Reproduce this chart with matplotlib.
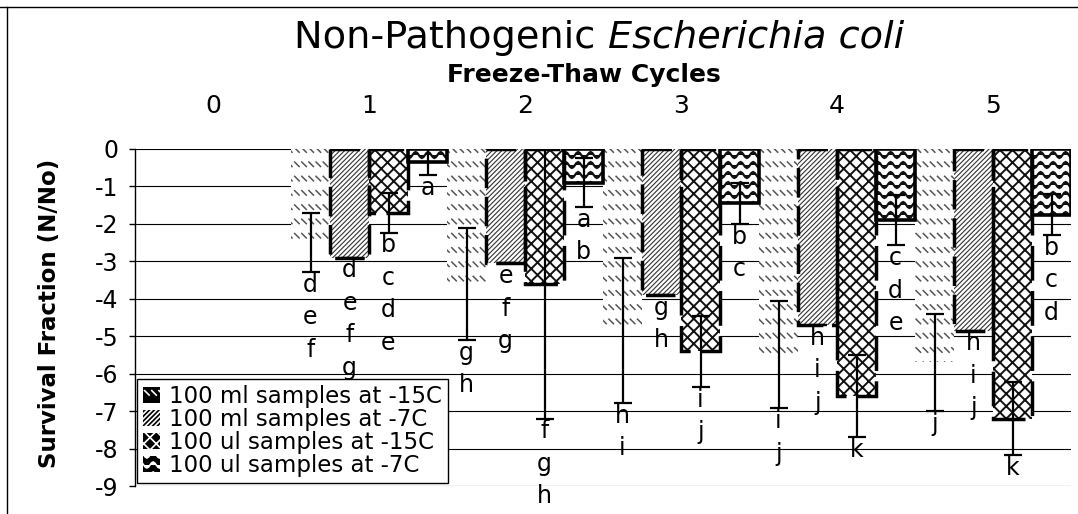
import warnings
warnings.filterwarnings("ignore")
import numpy as np
import matplotlib
matplotlib.use("Agg")
import matplotlib.pyplot as plt
import matplotlib.hatch as mhatch
import matplotlib.patches as mpatches
from matplotlib.path import Path
from matplotlib.lines import Line2D

# ---------------- data ----------------
cycles = [0, 1, 2, 3, 4, 5]
series_labels = ["100 ml samples at -15C", "100 ml samples at -7C",
                 "100 ul samples at -15C", "100 ul samples at -7C"]

ml_m15 = [0, -2.5, -3.6, -4.85, -5.5, -5.7]
ml_m15_err = [0, 0.78, 1.5, 1.93, 1.43, 1.3]
ml_m15_grp = ["", "def", "gh", "hi", "ij", "j"]

ml_m7 = [0, -2.9, -3.05, -3.9, -4.7, -4.85]
ml_m7_err = [0, 0, 0, 0, 0, 0]
ml_m7_grp = ["", "defg", "efg", "gh", "hij", "hij"]

ul_m15 = [0, -1.7, -3.6, -5.4, -6.6, -7.2]
ul_m15_err = [0, 0.53, 3.6, 0.95, 1.1, 0.98]
ul_m15_grp = ["", "bcde", "fgh", "ij", "k", "k"]

ul_m7 = [0, -0.35, -0.9, -1.45, -1.9, -1.75]
ul_m7_err = [0, 0.35, 0.65, 0.55, 0.67, 0.55]
ul_m7_grp = ["", "a", "ab", "bc", "cde", "bcd"]

yticks = [0, -1, -2, -3, -4, -5, -6, -7, -8, -9]


# ---------------- custom hatches ----------------
class WavyHatch(mhatch.HatchPatternBase):
    rows, periods, pts = 10, 8, 8

    def __init__(self, hatch, density):
        self.num_rows = hatch.count('~') * self.rows
        self.npts = self.periods * self.pts + 1
        self.num_vertices = self.num_rows * self.npts

    def set_vertices_and_codes(self, vertices, codes):
        xs = np.linspace(0, 1, self.npts)
        amp = 0.3 / self.num_rows
        k = 0
        for i in range(self.num_rows):
            y0 = (i + 0.5) / self.num_rows
            vertices[k:k + self.npts, 0] = xs
            vertices[k:k + self.npts, 1] = y0 + amp * np.sin(2 * np.pi * self.periods * xs)
            codes[k] = Path.MOVETO
            codes[k + 1:k + self.npts] = Path.LINETO
            k += self.npts


class DashHatch(mhatch.HatchPatternBase):
    rows, per_row, size = 7, 14, 0.045

    def __init__(self, hatch, density):
        self.num_rows = hatch.count(':') * self.rows
        self.num_vertices = self.num_rows * self.per_row * 2

    def set_vertices_and_codes(self, vertices, codes):
        s = self.size
        k = 0
        for i in range(self.num_rows):
            y0 = (i + 0.5) / self.num_rows
            for j in range(self.per_row):
                x0 = (j + 0.25) / self.per_row
                vertices[k] = (x0, y0 + s / 2)
                vertices[k + 1] = (x0 + s, y0 - s / 2)
                codes[k] = Path.MOVETO
                codes[k + 1] = Path.LINETO
                k += 2


class DiamondHatch(mhatch.HatchPatternBase):
    lines = 16

    def __init__(self, hatch, density):
        self.num_lines = hatch.count('#') * self.lines
        self.num_vertices = (self.num_lines + 1) * 4 if self.num_lines else 0

    def set_vertices_and_codes(self, vertices, codes):
        n = self.num_lines
        steps = np.linspace(-0.5, 0.5, n + 1)
        m = (n + 1) * 2
        v1 = vertices[:m]
        v1[0::2, 0] = 0.0 + steps
        v1[0::2, 1] = 0.0 - steps
        v1[1::2, 0] = 1.0 + steps
        v1[1::2, 1] = 1.0 - steps
        v2 = vertices[m:]
        v2[0::2, 0] = 0.0 + steps
        v2[0::2, 1] = 1.0 + steps
        v2[1::2, 0] = 1.0 + steps
        v2[1::2, 1] = 0.0 + steps
        codes[0::2] = Path.MOVETO
        codes[1::2] = Path.LINETO


mhatch._hatch_types.extend([WavyHatch, DashHatch, DiamondHatch])

# ---------------- figure ----------------
plt.rcParams['axes.unicode_minus'] = False
plt.rcParams['font.family'] = ['DejaVu Sans']
plt.rcParams['hatch.linewidth'] = 1.2

W, H = 1078, 514
fig = plt.figure(figsize=(W / 100, H / 100), dpi=100)
ax_l, ax_r, ax_t, ax_b = 135, 1071, 149, 486
ax = fig.add_axes([ax_l / W, 1 - ax_b / H, (ax_r - ax_l) / W, (ax_b - ax_t) / H])

x = np.arange(len(cycles))
width = 0.25
series = [
    (ml_m15, ml_m15_err, ml_m15_grp),
    (ml_m7, ml_m7_err, ml_m7_grp),
    (ul_m15, ul_m15_err, ul_m15_grp),
    (ul_m7, ul_m7_err, ul_m7_grp),
]
styles = [
    dict(hatch=':', hc='#555555', hlw=1.1, edge=None),
    dict(hatch='///////', hc='#333333', hlw=0.8, edge=dict(lw=2.5, ls=(0, (8.5, 2.5)))),
    dict(hatch='#', hc='#111111', hlw=1.4, edge=dict(lw=2.5, ls=(0, (10, 3)))),
    dict(hatch='~', hc='#111111', hlw=1.6, edge=dict(lw=2.6, ls='-')),
]

legend_handles = []
for j, ((vals, errs, grps), st) in enumerate(zip(series, styles)):
    vals = np.asarray(vals, float)
    errs = np.asarray(errs, float)
    pos = x + (j - 1.5) * width
    m = vals != 0
    bars = ax.bar(pos[m], vals[m], width, color='white', edgecolor=st['hc'],
                  linewidth=0, hatch=st['hatch'], zorder=2)
    for b in bars:
        try:
            b.set_hatch_linewidth(st['hlw'])
        except AttributeError:
            pass
    if st['edge'] is not None:
        ax.bar(pos[m], vals[m], width, fill=False, edgecolor='black',
               linewidth=st['edge']['lw'], linestyle=st['edge']['ls'], zorder=3)
    ax.errorbar(pos[m], vals[m], yerr=errs[m], fmt='none', ecolor='black',
                elinewidth=1.6, capsize=6.5, capthick=1.6, zorder=4)
    for xi, v, e, g in zip(pos[m], vals[m], errs[m], np.asarray(grps)[m]):
        ax.text(xi, v - e - 0.02, "\n".join(g), ha='center', va='top',
                fontsize=17, linespacing=1.45, zorder=5, clip_on=False)
    h = mpatches.Patch(facecolor='black', edgecolor='white', hatch=st['hatch'],
                       linewidth=0, label=series_labels[j])
    legend_handles.append(h)

ax.set_xlim(-0.5, len(cycles) - 0.5)
ax.set_ylim(min(yticks), max(yticks))
ax.set_yticks(yticks)
ax.set_yticklabels([str(t) for t in yticks])
ax.yaxis.grid(True, color='black', linewidth=0.8, zorder=0)
ax.set_axisbelow(True)
ax.set_xticks(x)
ax.set_xticklabels([str(c) for c in cycles])
ax.xaxis.tick_top()
ax.tick_params(axis='x', length=0, pad=22, labelsize=18)
ax.tick_params(axis='y', direction='out', length=4, width=1, pad=8, labelsize=17)
for s in ['top', 'right', 'bottom']:
    ax.spines[s].set_visible(False)
ax.spines['left'].set_linewidth(1.0)

leg = ax.legend(handles=legend_handles, loc='lower left',
                bbox_to_anchor=(0.002, 0.01), borderaxespad=0, fontsize=16.5,
                frameon=True, fancybox=False, framealpha=1, edgecolor='black',
                handlelength=0.75, handleheight=0.75, handletextpad=0.4,
                labelspacing=0.0, borderpad=0.25)
leg.get_frame().set_linewidth(1.0)
leg.set_zorder(6)

# titles
fig.text(50 / W, 1 - 313 / H, "Survival Fraction (N/No)", rotation=90,
         ha='center', va='center', fontsize=16.5, fontweight='bold')
fig.text(584 / W, 1 - 82 / H, "Freeze-Thaw Cycles", ha='center',
         va='baseline', fontsize=18, fontweight='bold')

renderer = fig.canvas.get_renderer()
t1 = fig.text(0, 1 - 48 / H, "Non-Pathogenic ", fontsize=27.5, va='baseline')
t2 = fig.text(0, 1 - 48 / H, "Escherichia coli", fontsize=27.5,
              style='italic', va='baseline')
w1 = t1.get_window_extent(renderer).width
w2 = t2.get_window_extent(renderer).width
x0 = 599 - (w1 + w2) / 2
t1.set_x(x0 / W)
t2.set_x((x0 + w1) / W)

# page frame lines
fig.add_artist(Line2D([7 / W, 7 / W], [0, 1 - 7 / H], transform=fig.transFigure,
                      color='black', linewidth=1))
fig.add_artist(Line2D([0, 1], [1 - 7 / H, 1 - 7 / H], transform=fig.transFigure,
                      color='black', linewidth=1))

fig.savefig("out.png", dpi=100)
